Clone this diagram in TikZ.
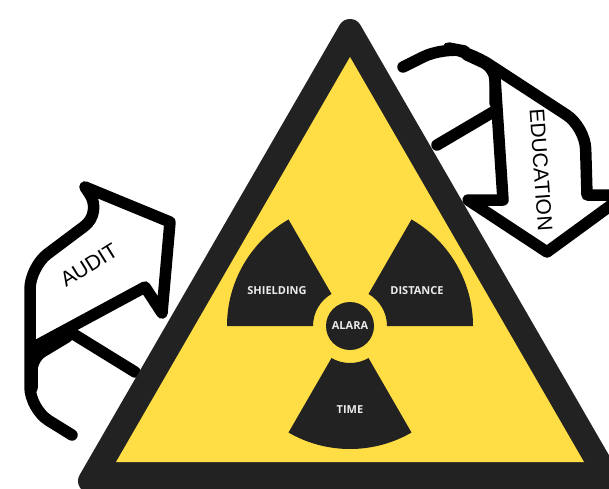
\documentclass[tikz,border=0pt]{standalone}
\usepackage{fontspec}
\setmainfont{Open Sans}
\newfontfamily\arrowfont{Liberation Sans}
\definecolor{signdark}{HTML}{222222}
\definecolor{signyellow}{HTML}{FFDD44}
\begin{document}
\begin{tikzpicture}[
  x=1pt, y=1pt,
  shell/.style={draw=black, line width=11.5pt, line cap=round, line join=round},
  trefoil/.style={fill=signdark},
  signtext/.style={text=white!92!black, font=\bfseries\fontsize{11}{13}\selectfont, inner sep=0pt},
  arrowtext/.style={text=black, font=\arrowfont\fontsize{21}{24}\selectfont, inner sep=0pt}
]
  \useasboundingbox (0,0) rectangle (609,488);
  \fill[white] (0,0) rectangle (609,488);

  % left arrow
  \draw[shell] (72,53) [rounded corners=22pt] -- (30,79) -- (30,221) -- (102,275) [sharp corners] -- (85,301) -- (170,266) -- (162,175) -- (145,201) -- (32,140);
  \draw[shell, rounded corners=12pt] (32,100) -- (32,130) -- (67,151);
  \draw[shell] (75,153) -- (135,116);
  \node[arrowtext, rotate=32] (audit) at (89,223) {AUDIT};

  % right arrow
  \draw[shell] (403,421) [rounded corners=22pt] -- (443,441) -- (470,436) -- (585,361) [sharp corners] -- (587,293) -- (625,293) -- (547,236) -- (468,288) -- (503,288) -- (495,410);
  \draw[shell, rounded corners=12pt] (467,433) -- (495,420) -- (495,385);
  \draw[shell] (493,376) -- (437,343);
  \node[arrowtext, rotate=-86] (education) at (541,318) {EDUCATION};

  % sign
  \draw[signdark, fill=signdark, line width=24pt, line join=round] (350,457) -- (90,7) -- (610,7) -- cycle;
  \fill[signyellow] (350,431) -- (116,26) -- (584,26) -- cycle;

  % trefoil, centre at (350,162)
  \fill[trefoil] (350,162) ++(180:123) arc[start angle=180, end angle=120, radius=123] -- ++(-60:86) arc[start angle=120, end angle=180, radius=37] -- cycle;
  \fill[trefoil] (350,162) ++(60:123) arc[start angle=60, end angle=0, radius=123] -- ++(180:86) arc[start angle=0, end angle=60, radius=37] -- cycle;
  \fill[trefoil] (350,162) ++(300:123) arc[start angle=300, end angle=240, radius=123] -- ++(60:86) arc[start angle=240, end angle=300, radius=37] -- cycle;
  \node[circle, fill=signdark, minimum size=48pt, inner sep=0pt] (hub) at (350,162) {};

  \node[signtext] (shielding) at (277,197) {SHIELDING};
  \node[signtext] (distance) at (417,197) {DISTANCE};
  \node[signtext] (alara) at (350,162) {ALARA};
  \node[signtext] (time) at (350,78) {TIME};
\end{tikzpicture}
\end{document}
